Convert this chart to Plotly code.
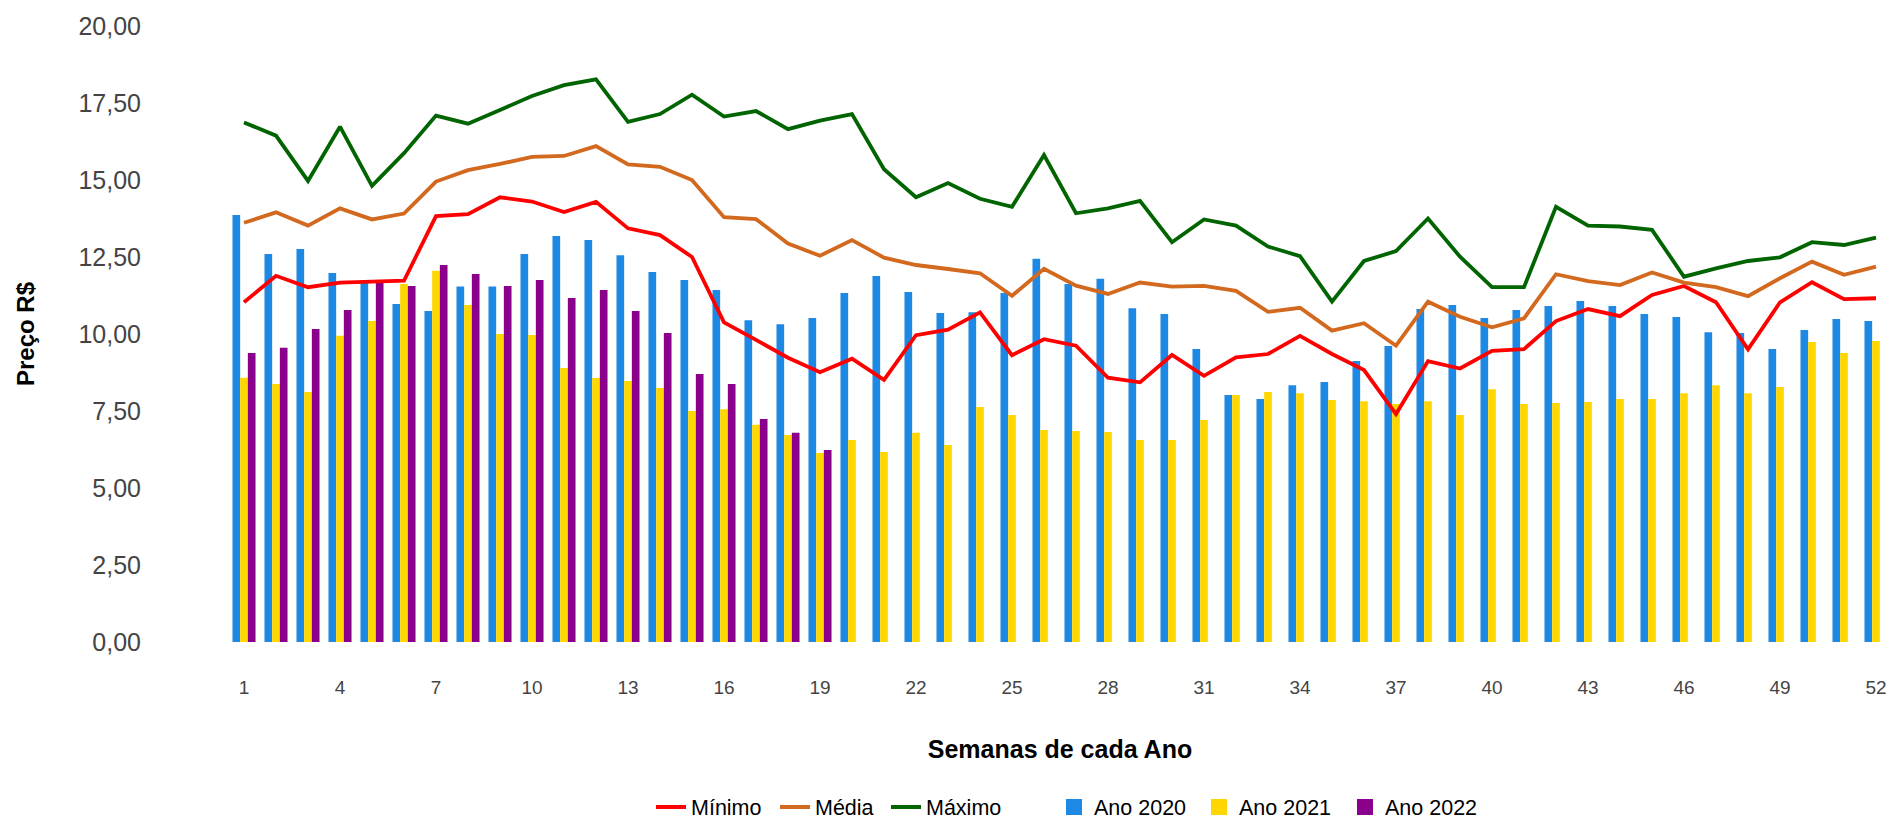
import plotly.graph_objects as go

weeks = list(range(1, 53))

ano_2020 = [13.86, 12.60, 12.76, 11.98, 11.68, 10.97, 10.75, 11.54, 11.54, 12.60,
            13.18, 13.05, 12.56, 12.01, 11.75, 11.43, 10.45, 10.32, 10.52, 11.33,
            11.88, 11.36, 10.68, 10.71, 11.33, 12.44, 11.62, 11.79, 10.84, 10.65,
            9.51, 8.02, 7.89, 8.34, 8.44, 9.12, 9.61, 10.81, 10.94, 10.52,
            10.78, 10.91, 11.07, 10.91, 10.65, 10.55, 10.06, 10.03, 9.51, 10.13,
            10.49, 10.42]

ano_2021 = [8.58, 8.38, 8.12, 9.94, 10.42, 11.62, 12.05, 10.94, 10.00, 9.97,
            8.90, 8.57, 8.47, 8.25, 7.50, 7.56, 7.05, 6.72, 6.14, 6.56,
            6.17, 6.79, 6.40, 7.63, 7.37, 6.88, 6.85, 6.82, 6.56, 6.56,
            7.21, 8.02, 8.12, 8.08, 7.86, 7.82, 7.73, 7.82, 7.37, 8.21,
            7.73, 7.76, 7.79, 7.89, 7.89, 8.08, 8.34, 8.08, 8.28, 9.74,
            9.38, 9.77]

ano_2022 = [9.38, 9.55, 10.16, 10.78, 11.67, 11.56, 12.24, 11.95, 11.56, 11.75,
            11.17, 11.43, 10.75, 10.03, 8.70, 8.38, 7.24, 6.79, 6.23] + [None] * 33

minimo = [11.03, 11.89, 11.52, 11.67, 11.70, 11.73, 13.83, 13.89, 14.44, 14.30,
          13.96, 14.29, 13.43, 13.21, 12.50, 10.38, 9.81, 9.23, 8.76, 9.20,
          8.51, 9.96, 10.14, 10.70, 9.31, 9.83, 9.62, 8.58, 8.43, 9.32,
          8.64, 9.24, 9.35, 9.94, 9.35, 8.83, 7.40, 9.12, 8.88, 9.45,
          9.51, 10.42, 10.81, 10.58, 11.27, 11.56, 11.03, 9.50, 11.03, 11.68,
          11.13, 11.16]

media = [13.61, 13.95, 13.52, 14.08, 13.72, 13.91, 14.95, 15.32, 15.52, 15.75,
         15.78, 16.10, 15.51, 15.43, 15.00, 13.79, 13.73, 12.94, 12.54, 13.05,
         12.48, 12.24, 12.11, 11.97, 11.24, 12.12, 11.57, 11.30, 11.67, 11.54,
         11.56, 11.40, 10.72, 10.85, 10.11, 10.35, 9.62, 11.05, 10.56, 10.22,
         10.51, 11.94, 11.72, 11.59, 12.00, 11.67, 11.52, 11.23, 11.81, 12.35,
         11.92, 12.19]

maximo = [16.87, 16.44, 14.97, 16.73, 14.81, 15.87, 17.09, 16.83, 17.27, 17.73,
          18.08, 18.27, 16.89, 17.14, 17.77, 17.06, 17.24, 16.65, 16.93, 17.14,
          15.35, 14.44, 14.90, 14.39, 14.13, 15.81, 13.92, 14.08, 14.32, 12.98,
          13.72, 13.52, 12.84, 12.53, 11.05, 12.37, 12.69, 13.75, 12.51, 11.52,
          11.52, 14.13, 13.52, 13.49, 13.38, 11.86, 12.13, 12.37, 12.49, 12.98,
          12.89, 13.13]

x_ticks = list(range(1, 53, 3))
y_ticks = [0, 2.5, 5, 7.5, 10, 12.5, 15, 17.5, 20]

FONT = "Arial, Liberation Sans, sans-serif"
W, H = 1893, 819

fig = go.Figure()

bar_series = [("Ano 2020", ano_2020, "#1E88E5"),
              ("Ano 2021", ano_2021, "#FFD600"),
              ("Ano 2022", ano_2022, "#8B008B")]
line_series = [("Mínimo", minimo, "#FF0000"),
               ("Média", media, "#D2691E"),
               ("Máximo", maximo, "#006400")]

# one small legend per entry so each entry can sit where the reference has it
line_legend_x = [651, 775, 886]
bar_legend_x = [1054, 1199, 1345]

for name, vals, col in bar_series:
    fig.add_trace(go.Bar(x=weeks, y=vals, name=name,
                         marker=dict(color=col, line=dict(width=0)),
                         showlegend=False))

legend_layouts = {}
k = 1
for (name, vals, col), lx in zip(line_series, line_legend_x):
    key = "legend" if k == 1 else f"legend{k}"
    fig.add_trace(go.Scatter(x=weeks, y=vals, name=name, mode="lines",
                             line=dict(color=col, width=3.8), legend=key))
    legend_layouts[key] = lx
    k += 1

for (name, vals, col), lx in zip(bar_series, bar_legend_x):
    key = f"legend{k}"
    fig.add_trace(go.Scatter(x=[None], y=[None], name=name, mode="markers",
                             marker=dict(symbol="square", size=24, color=col),
                             legend=key))
    legend_layouts[key] = lx
    k += 1

layout_legends = {}
for key, lx in legend_layouts.items():
    layout_legends[key] = dict(orientation="h", xref="container", yref="container",
                               x=lx / W, y=(H - 807) / H, xanchor="left", yanchor="middle",
                               font=dict(size=21.5, color="#000000", family=FONT),
                               bgcolor="rgba(0,0,0,0)", borderwidth=0, itemwidth=30)

fig.update_layout(
    width=W, height=H,
    margin=dict(l=228, r=1, t=26, b=177, pad=0),
    paper_bgcolor="white", plot_bgcolor="white",
    font=dict(family=FONT, color="#222222"),
    separators=",.",
    barmode="group", bargap=0.28, bargroupgap=0,
    xaxis=dict(range=[0.5, 52.5], tickmode="array", tickvals=x_ticks,
               ticktext=[str(v) for v in x_ticks], showgrid=False, zeroline=False,
               showline=False, ticks="", ticklabelstandoff=32,
               tickfont=dict(size=19, color="#444444", family=FONT),
               title=dict(text="<b>Semanas de cada Ano</b>", standoff=43,
                          font=dict(size=25, color="#000000", family=FONT))),
    yaxis=dict(range=[0, 20], tickmode="array", tickvals=y_ticks, tickformat=".2f",
               showgrid=False, zeroline=False, showline=False, ticks="",
               ticklabelstandoff=86,
               tickfont=dict(size=25, color="#444444", family=FONT),
               title=dict(text="<b>Preço R$</b>", standoff=37,
                          font=dict(size=24, color="#000000", family=FONT))),
    **layout_legends,
)

fig.write_html("out.html",
               config={"displayModeBar": False},
               post_script="document.body.style.margin='0';document.body.style.overflow='hidden';")
